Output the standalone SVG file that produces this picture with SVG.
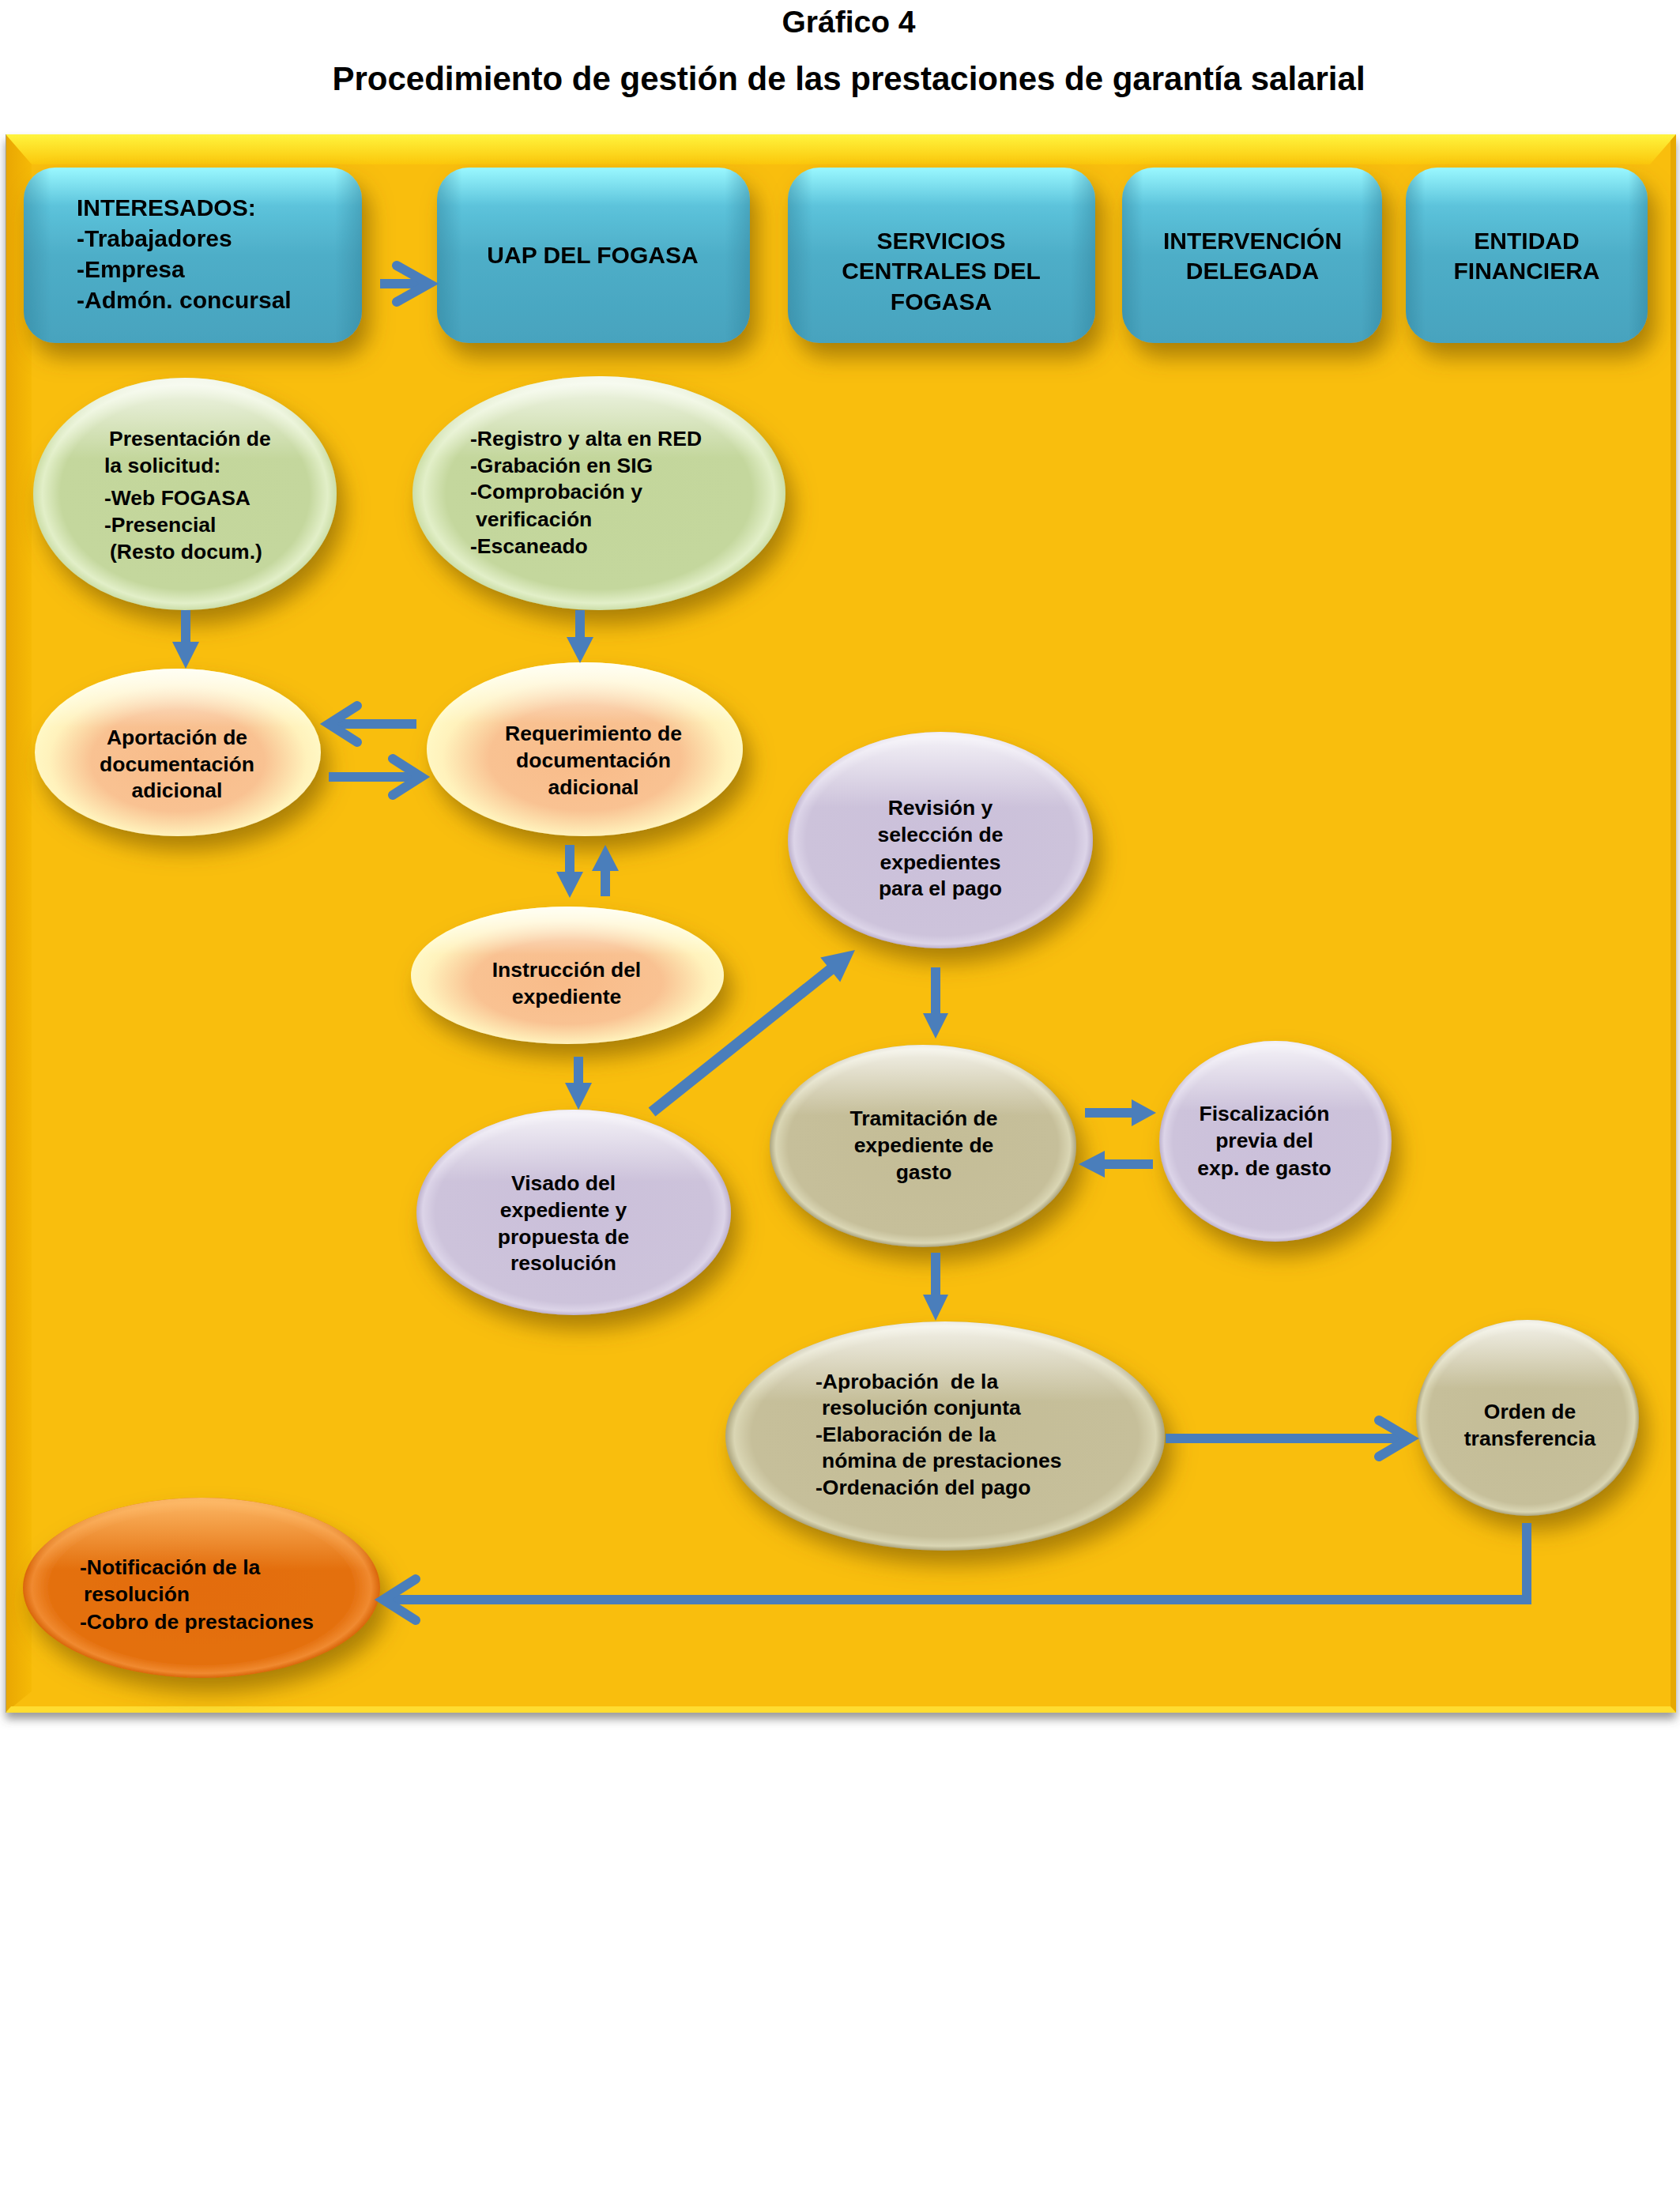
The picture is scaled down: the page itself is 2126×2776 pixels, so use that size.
<svg xmlns="http://www.w3.org/2000/svg" width="2126" height="2776" viewBox="0 0 2126 2776">
<defs>
<style>
.t{font-family:"Liberation Sans",Arial,sans-serif;font-weight:bold;fill:#000}
.hd{font-size:30px}
.nd{font-size:26.5px}
.c{text-anchor:middle}
.arr{fill:#4A7EBB}
.chev{fill:none;stroke:#4A7EBB;stroke-width:12;stroke-linecap:round;stroke-linejoin:miter}
.shaft{fill:none;stroke:#4A7EBB;stroke-width:12}
</style>
<filter id="sh" x="-30%" y="-30%" width="170%" height="180%">
<feGaussianBlur in="SourceAlpha" stdDeviation="14"/>
<feOffset dx="10" dy="18" result="b"/>
<feFlood flood-color="#6b4c00" flood-opacity="0.55"/>
<feComposite in2="b" operator="in"/>
<feMerge><feMergeNode/><feMergeNode in="SourceGraphic"/></feMerge>
</filter>
<filter id="psh" x="-5%" y="-5%" width="110%" height="110%">
<feGaussianBlur in="SourceAlpha" stdDeviation="6"/>
<feOffset dx="0" dy="8" result="b"/>
<feFlood flood-color="#555" flood-opacity="0.6"/>
<feComposite in2="b" operator="in"/>
<feMerge><feMergeNode/><feMergeNode in="SourceGraphic"/></feMerge>
</filter>
<linearGradient id="gTop" x1="0" y1="0" x2="0" y2="1">
<stop offset="0" stop-color="#FFF43E"/>
<stop offset="1" stop-color="#FBC70B"/>
</linearGradient>
<linearGradient id="gLeft" x1="0" y1="0" x2="1" y2="0">
<stop offset="0" stop-color="#E9A602"/>
<stop offset="1" stop-color="#F6BA06"/>
</linearGradient>
<linearGradient id="gBlue" x1="0" y1="0" x2="0" y2="1">
<stop offset="0" stop-color="#9AF8FF"/>
<stop offset="0.22" stop-color="#5CC3DB"/>
<stop offset="0.5" stop-color="#4EAEC8"/>
<stop offset="1" stop-color="#47A3BE"/>
</linearGradient>
<linearGradient id="gBlueSide" x1="0" y1="0" x2="1" y2="0">
<stop offset="0" stop-color="#2f7f98" stop-opacity="0.45"/>
<stop offset="0.08" stop-color="#2f7f98" stop-opacity="0"/>
<stop offset="0.92" stop-color="#2f7f98" stop-opacity="0"/>
<stop offset="1" stop-color="#2f7f98" stop-opacity="0.45"/>
</linearGradient>
<radialGradient id="gGreen" cx="0.5" cy="0.5" r="0.5">
<stop offset="0" stop-color="#C3D69B"/>
<stop offset="0.82" stop-color="#C4D79D"/>
<stop offset="0.94" stop-color="#E2EFC8"/>
<stop offset="1" stop-color="#CCDEA8"/>
</radialGradient>
<radialGradient id="gPeach" cx="0.5" cy="0.55" r="0.55">
<stop offset="0" stop-color="#F8BB89"/>
<stop offset="0.55" stop-color="#F9C292"/>
<stop offset="0.82" stop-color="#FFF2BC"/>
<stop offset="1" stop-color="#FFFCCB"/>
</radialGradient>
<radialGradient id="gLav" cx="0.5" cy="0.5" r="0.5">
<stop offset="0" stop-color="#CBC0DA"/>
<stop offset="0.88" stop-color="#CDC3DB"/>
<stop offset="0.96" stop-color="#DCD4E8"/>
<stop offset="1" stop-color="#BDB1CD"/>
</radialGradient>
<radialGradient id="gKhaki" cx="0.5" cy="0.5" r="0.5">
<stop offset="0" stop-color="#C4BD97"/>
<stop offset="0.88" stop-color="#C6BF9A"/>
<stop offset="0.96" stop-color="#DAD6B4"/>
<stop offset="1" stop-color="#ABA47E"/>
</radialGradient>
<radialGradient id="gOrange" cx="0.5" cy="0.5" r="0.5">
<stop offset="0" stop-color="#E36C0A"/>
<stop offset="0.85" stop-color="#E4700E"/>
<stop offset="0.95" stop-color="#F08A30"/>
<stop offset="1" stop-color="#D9650A"/>
</radialGradient>
<linearGradient id="gHi" x1="0" y1="0" x2="0" y2="1">
<stop offset="0" stop-color="#FFFFFF" stop-opacity="0.8"/>
<stop offset="0.35" stop-color="#FFFFFF" stop-opacity="0"/>
</linearGradient>
<linearGradient id="gHiO" x1="0" y1="0" x2="0" y2="1">
<stop offset="0" stop-color="#FFC070" stop-opacity="0.9"/>
<stop offset="0.4" stop-color="#FFC070" stop-opacity="0"/>
</linearGradient>
</defs>

<rect x="0" y="0" width="2126" height="2776" fill="#FFFFFF"/>

<g id="titles">
<text class="t c" x="1074" y="41" font-size="39">Gráfico 4</text>
<text class="t c" x="1074" y="114" font-size="42">Procedimiento de gestión de las prestaciones de garantía salarial</text>
</g>

<g id="panel">
<rect x="7" y="170" width="2114" height="1997" fill="#F9BE08" filter="url(#psh)"/>
<polygon points="7,170 2121,170 2088,208 40,208" fill="url(#gTop)"/>
<polygon points="7,170 40,208 40,2140 7,2167" fill="url(#gLeft)"/>
<polygon points="2121,170 2114,178 2114,2160 2121,2167" fill="#E7A800"/>
<polygon points="7,2167 2121,2167 2114,2159 14,2159" fill="#FFDD30"/>
<line x1="7.5" y1="170" x2="7.5" y2="2167" stroke="#B0A070" stroke-width="1"/>
</g>

<g id="n-interesados" filter="url(#sh)">
<rect x="30" y="212" width="428" height="222" rx="40" fill="url(#gBlue)"/>
<rect x="30" y="212" width="428" height="222" rx="40" fill="url(#gBlueSide)"/>
<text class="t hd" x="97" y="273">INTERESADOS:</text>
<text class="t hd" x="97" y="312">-Trabajadores</text>
<text class="t hd" x="97" y="351">-Empresa</text>
<text class="t hd" x="97" y="390">-Admón. concursal</text>
</g>
<g id="n-uap" filter="url(#sh)">
<rect x="553" y="212" width="396" height="222" rx="40" fill="url(#gBlue)"/>
<rect x="553" y="212" width="396" height="222" rx="40" fill="url(#gBlueSide)"/>
<text class="t hd c" x="750" y="333">UAP DEL FOGASA</text>
</g>
<g id="n-servicios" filter="url(#sh)">
<rect x="997" y="212" width="389" height="222" rx="40" fill="url(#gBlue)"/>
<rect x="997" y="212" width="389" height="222" rx="40" fill="url(#gBlueSide)"/>
<text class="t hd c" x="1191" y="315">SERVICIOS</text>
<text class="t hd c" x="1191" y="353">CENTRALES DEL</text>
<text class="t hd c" x="1191" y="392">FOGASA</text>
</g>
<g id="n-intervencion" filter="url(#sh)">
<rect x="1420" y="212" width="329" height="222" rx="40" fill="url(#gBlue)"/>
<rect x="1420" y="212" width="329" height="222" rx="40" fill="url(#gBlueSide)"/>
<text class="t hd c" x="1585" y="315">INTERVENCIÓN</text>
<text class="t hd c" x="1585" y="353">DELEGADA</text>
</g>
<g id="n-entidad" filter="url(#sh)">
<rect x="1779" y="212" width="306" height="222" rx="40" fill="url(#gBlue)"/>
<rect x="1779" y="212" width="306" height="222" rx="40" fill="url(#gBlueSide)"/>
<text class="t hd c" x="1932" y="315">ENTIDAD</text>
<text class="t hd c" x="1932" y="353">FINANCIERA</text>
</g>

<g id="n-presentacion">
<ellipse cx="234" cy="625" rx="192" ry="147" fill="url(#gGreen)" filter="url(#sh)"/>
<ellipse cx="234" cy="625" rx="192" ry="147" fill="url(#gHi)"/>
<text class="t nd" x="138" y="564">Presentación de</text>
<text class="t nd" x="132" y="598">la solicitud:</text>
<text class="t nd" x="132" y="639">-Web FOGASA</text>
<text class="t nd" x="132" y="673">-Presencial</text>
<text class="t nd" x="139" y="707">(Resto docum.)</text>
</g>
<g id="n-registro">
<ellipse cx="758" cy="624" rx="236" ry="148" fill="url(#gGreen)" filter="url(#sh)"/>
<ellipse cx="758" cy="624" rx="236" ry="148" fill="url(#gHi)"/>
<text class="t nd" x="595" y="564">-Registro y alta en RED</text>
<text class="t nd" x="595" y="598">-Grabación en SIG</text>
<text class="t nd" x="595" y="631">-Comprobación y</text>
<text class="t nd" x="602" y="666">verificación</text>
<text class="t nd" x="595" y="700">-Escaneado</text>
</g>
<g id="n-aportacion">
<ellipse cx="225" cy="952" rx="181" ry="106" fill="url(#gPeach)" filter="url(#sh)"/>
<ellipse cx="225" cy="952" rx="181" ry="106" fill="url(#gHi)"/>
<text class="t nd c" x="224" y="942">Aportación de</text>
<text class="t nd c" x="224" y="976">documentación</text>
<text class="t nd c" x="224" y="1009">adicional</text>
</g>
<g id="n-requerimiento">
<ellipse cx="740" cy="948" rx="200" ry="110" fill="url(#gPeach)" filter="url(#sh)"/>
<ellipse cx="740" cy="948" rx="200" ry="110" fill="url(#gHi)"/>
<text class="t nd c" x="751" y="937">Requerimiento de</text>
<text class="t nd c" x="751" y="971">documentación</text>
<text class="t nd c" x="751" y="1005">adicional</text>
</g>
<g id="n-instruccion">
<ellipse cx="718" cy="1234" rx="198" ry="87" fill="url(#gPeach)" filter="url(#sh)"/>
<ellipse cx="718" cy="1234" rx="198" ry="87" fill="url(#gHi)"/>
<text class="t nd c" x="717" y="1236">Instrucción del</text>
<text class="t nd c" x="717" y="1270">expediente</text>
</g>
<g id="n-visado">
<ellipse cx="726" cy="1534" rx="199" ry="130" fill="url(#gLav)" filter="url(#sh)"/>
<ellipse cx="726" cy="1534" rx="199" ry="130" fill="url(#gHi)"/>
<text class="t nd c" x="713" y="1506">Visado del</text>
<text class="t nd c" x="713" y="1540">expediente y</text>
<text class="t nd c" x="713" y="1574">propuesta de</text>
<text class="t nd c" x="713" y="1607">resolución</text>
</g>
<g id="n-revision">
<ellipse cx="1190" cy="1063" rx="193" ry="137" fill="url(#gLav)" filter="url(#sh)"/>
<ellipse cx="1190" cy="1063" rx="193" ry="137" fill="url(#gHi)"/>
<text class="t nd c" x="1190" y="1031">Revisión y</text>
<text class="t nd c" x="1190" y="1065">selección de</text>
<text class="t nd c" x="1190" y="1100">expedientes</text>
<text class="t nd c" x="1190" y="1133">para el pago</text>
</g>
<g id="n-tramitacion">
<ellipse cx="1168" cy="1450" rx="194" ry="128" fill="url(#gKhaki)" filter="url(#sh)"/>
<ellipse cx="1168" cy="1450" rx="194" ry="128" fill="url(#gHi)"/>
<text class="t nd c" x="1169" y="1424">Tramitación de</text>
<text class="t nd c" x="1169" y="1458">expediente de</text>
<text class="t nd c" x="1169" y="1492">gasto</text>
</g>
<g id="n-fiscalizacion">
<ellipse cx="1614" cy="1444" rx="147" ry="127" fill="url(#gLav)" filter="url(#sh)"/>
<ellipse cx="1614" cy="1444" rx="147" ry="127" fill="url(#gHi)"/>
<text class="t nd c" x="1600" y="1418">Fiscalización</text>
<text class="t nd c" x="1600" y="1452">previa del</text>
<text class="t nd c" x="1600" y="1487">exp. de gasto</text>
</g>
<g id="n-aprobacion">
<ellipse cx="1196" cy="1817" rx="278" ry="145" fill="url(#gKhaki)" filter="url(#sh)"/>
<ellipse cx="1196" cy="1817" rx="278" ry="145" fill="url(#gHi)"/>
<text class="t nd" x="1032" y="1757" xml:space="preserve">-Aprobación  de la</text>
<text class="t nd" x="1040" y="1790">resolución conjunta</text>
<text class="t nd" x="1032" y="1824">-Elaboración de la</text>
<text class="t nd" x="1040" y="1857">nómina de prestaciones</text>
<text class="t nd" x="1032" y="1891">-Ordenación del pago</text>
</g>
<g id="n-orden">
<ellipse cx="1933" cy="1794" rx="141" ry="124" fill="url(#gKhaki)" filter="url(#sh)"/>
<ellipse cx="1933" cy="1794" rx="141" ry="124" fill="url(#gHi)"/>
<text class="t nd c" x="1936" y="1795">Orden de</text>
<text class="t nd c" x="1936" y="1829">transferencia</text>
</g>
<g id="n-notificacion">
<ellipse cx="255" cy="2009" rx="226" ry="114" fill="url(#gOrange)" filter="url(#sh)"/>
<ellipse cx="255" cy="2009" rx="226" ry="114" fill="url(#gHiO)"/>
<text class="t nd" x="101" y="1992">-Notificación de la</text>
<text class="t nd" x="106" y="2026">resolución</text>
<text class="t nd" x="101" y="2061">-Cobro de prestaciones</text>
</g>

<g id="connectors">
<line class="shaft" x1="481" y1="359" x2="543" y2="359" stroke-width="11"/>
<polyline class="chev" points="502,336 543,359 502,382" stroke-width="11"/>
<path class="arr" d="M229,772 H241 V812 H252 L235,846 L218,812 H229 Z"/>
<path class="arr" d="M728,772 H740 V806 H751 L734,839 L717,806 H728 Z"/>
<line class="shaft" x1="527" y1="916" x2="420" y2="916"/>
<polyline class="chev" points="452,893 416,916 452,939"/>
<line class="shaft" x1="416" y1="983" x2="529" y2="983"/>
<polyline class="chev" points="497,960 533,983 497,1006"/>
<path class="arr" d="M715,1069 H727 V1103 H738 L721,1136 L704,1103 H715 Z"/>
<path class="arr" d="M760,1134 H772 V1102 H783 L766,1069 L749,1102 H760 Z"/>
<path class="arr" d="M726,1337 H738 V1370 H749 L732,1404 L715,1370 H726 Z"/>
<path class="arr" d="M820.6,1401.5 L1046.3,1221.5 L1038.2,1211.4 L1082,1202 L1063.2,1242.6 L1055.1,1232.5 L829.4,1412.5 Z"/>
<path class="arr" d="M1178,1224 H1190 V1282 H1200 L1184,1314 L1168,1282 H1178 Z"/>
<path class="arr" d="M1373,1402 H1432 V1391 L1463,1408 L1432,1425 V1414 H1373 Z"/>
<path class="arr" d="M1459,1467 H1398 V1456 L1365,1473 L1398,1490 V1479 H1459 Z"/>
<path class="arr" d="M1178,1585 H1190 V1638 H1200 L1184,1671 L1168,1638 H1178 Z"/>
<line class="shaft" x1="1475" y1="1820" x2="1780" y2="1820"/>
<polyline class="chev" points="1745,1797 1784,1820 1745,1843"/>
<polyline class="shaft" points="1932,1927 1932,2024 488,2024" stroke-linejoin="miter"/>
<polyline class="chev" points="526,1998 485,2024 526,2050"/>
</g>
</svg>
